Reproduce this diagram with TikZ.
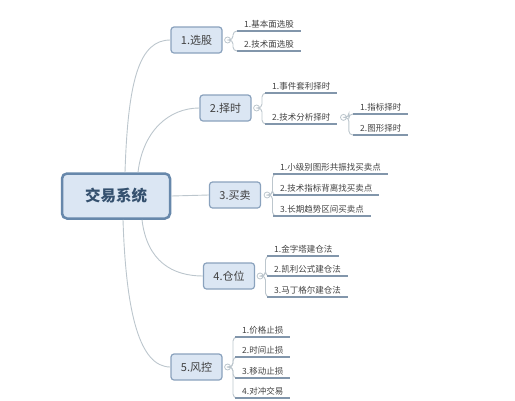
\documentclass[tikz,border=0pt]{standalone}
\usepackage{fontspec}
\setmainfont{Noto Sans CJK SC}
\definecolor{conn}{HTML}{BCC6CD}
\definecolor{boxfill}{HTML}{DBE6F3}
\definecolor{boxline}{HTML}{8AA2BD}
\definecolor{rootline}{HTML}{6788AB}
\definecolor{uline}{HTML}{8296AB}
\definecolor{txt}{HTML}{404040}
\definecolor{roottxt}{HTML}{34506E}
\tikzset{
  conn/.style={draw=conn, line width=0.9pt},
  topic/.style={draw=boxline, fill=boxfill, line width=1.2pt, rounded corners=3pt,
    minimum width=51pt, minimum height=26pt, inner sep=0pt, text=txt,
    font=\fontsize{11pt}{13pt}\selectfont},
  roottopic/.style={draw=rootline, fill=boxfill, line width=2.5pt, rounded corners=5pt,
    minimum width=108pt, minimum height=45pt, inner sep=0pt, text=roottxt,
    font=\fontsize{15.5pt}{18pt}\selectfont\bfseries},
  leaf/.style={anchor=south west, inner xsep=7pt, inner ysep=2.5pt, text=txt,
    font=\fontsize{8.5pt}{10pt}\selectfont},
  knob/.style={circle, draw=conn, fill=white, line width=0.8pt, minimum size=6pt, inner sep=0pt},
  brk/.style={conn, rounded corners=4pt},
  ul/.style={draw=uline, line width=2.3pt}
}
\newcommand{\uline}[1]{\draw[ul] (#1.south west) -- (#1.south east);}
\begin{document}
\begin{tikzpicture}[x=1pt,y=-1pt]
\useasboundingbox (0,0) rectangle (515,400);

% root and topics
\node[roottopic] (root) at (116,196) {交易系统};
\node[topic] (b1) at (196.5,40) {1.选股};
\node[topic] (b2) at (225.5,108) {2.择时};
\node[topic] (b3) at (235,195) {3.买卖};
\node[topic] (b4) at (229,276) {4.仓位};
\node[topic] (b5) at (196.5,367) {5.风控};

% root connectors
\draw[conn] ([xshift=9pt]root.north) .. controls +(3,-93) and +(-31,0) .. (b1.west);
\draw[conn] ([xshift=22pt]root.north) .. controls +(5,-42) and +(-30,0) .. (b2.west);
\draw[conn] (root.east) -- (b3.west);
\draw[conn] ([xshift=26pt]root.south) .. controls +(5,42) and +(-30,0) .. (b4.west);
\draw[conn] ([xshift=7pt]root.south) .. controls +(3,93) and +(-31,0) .. (b5.west);

% knobs
\node[knob] (c1) at ([xshift=5pt]b1.east) {};
\node[knob] (c2) at ([xshift=5pt]b2.east) {};
\node[knob] (c3) at ([xshift=6pt]b3.east) {};
\node[knob] (c4) at ([xshift=5pt]b4.east) {};
\node[knob] (c5) at ([xshift=5pt]b5.east) {};

% 1. 选股
\node[leaf] (l11) at (237,31) {1.基本面选股};
\node[leaf] (l12) at (237,51) {2.技术面选股};
% 2. 择时
\node[leaf] (l21) at (265,93) {1.事件套利择时};
\node[leaf] (l22) at (265,124) {2.技术分析择时};
\node[knob] (c22) at ([xshift=6pt]l22.east) {};
\node[leaf] (l221) at (353,114) {1.指标择时};
\node[leaf] (l222) at (353,135) {2.图形择时};
% 3. 买卖
\node[leaf] (l31) at (273,174) {1.小级别图形共振找买卖点};
\node[leaf] (l32) at (273,195) {2.技术指标背离找买卖点};
\node[leaf] (l33) at (273,216) {3.长期趋势区间买卖点};
% 4. 仓位
\node[leaf] (l41) at (267,256) {1.金字塔建仓法};
\node[leaf] (l42) at (267,276) {2.凯利公式建仓法};
\node[leaf] (l43) at (267,297) {3.马丁格尔建仓法};
% 5. 风控
\node[leaf] (l51) at (235,337) {1.价格止损};
\node[leaf] (l52) at (235,357) {2.时间止损};
\node[leaf] (l53) at (235,378) {3.移动止损};
\node[leaf] (l54) at (235,398) {4.对冲交易};

% brackets
\foreach \c/\l in {c1/l11,c1/l12,c2/l21,c2/l22,c22/l221,c22/l222,
  c3/l31,c3/l32,c3/l33,c4/l41,c4/l42,c4/l43,c5/l51,c5/l52,c5/l53,c5/l54}{
  \draw[brk] (\c.east) -- ++(2,0) |- (\l.south west);
}

% underlines
\foreach \l in {l11,l12,l21,l22,l221,l222,l31,l32,l33,l41,l42,l43,l51,l52,l53,l54}{
  \uline{\l}
}
\end{tikzpicture}
\end{document}
